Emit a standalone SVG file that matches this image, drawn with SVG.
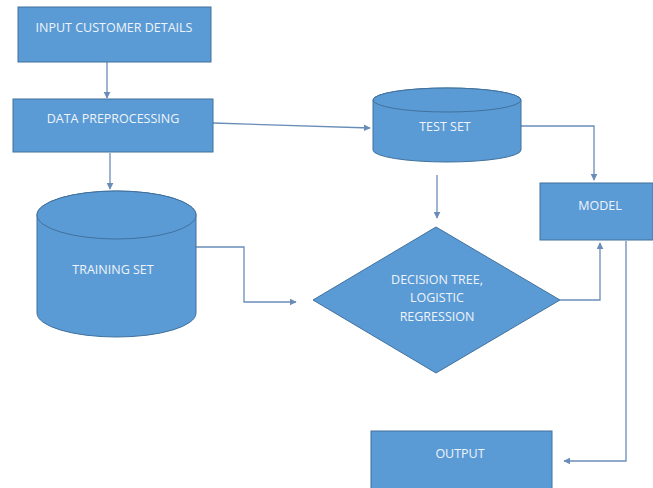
<svg xmlns="http://www.w3.org/2000/svg" width="653" height="488" viewBox="0 0 653 488">
<defs>
<style>
.n{fill:#5B9BD5;stroke:#41719C;stroke-width:1}
.t{font-family:"Open Sans","Liberation Sans",sans-serif;font-size:12.5px;fill:#EEF4FA;text-anchor:middle;dominant-baseline:middle}
.c{fill:none;stroke:#6A8DB8;stroke-width:1.3}
</style>
<marker id="a" viewBox="0 0 10 10" refX="9" refY="5" markerWidth="7" markerHeight="7" orient="auto" markerUnits="userSpaceOnUse">
<path d="M0,0 L10,5 L0,10 z" fill="#6A8DB8"/>
</marker>
</defs>
<rect width="653" height="488" fill="#fff"/>
<g id="connectors">
<path class="c" d="M107,62 V98" marker-end="url(#a)"/>
<path class="c" d="M110,153 V189" marker-end="url(#a)"/>
<path class="c" d="M213,123 L370,128" marker-end="url(#a)"/>
<path class="c" d="M521,126 H594 V180" marker-end="url(#a)"/>
<path class="c" d="M437,175 V218" marker-end="url(#a)"/>
<path class="c" d="M196,247 H244 V302 H296" marker-end="url(#a)"/>
<path class="c" d="M560,300 H600 V243" marker-end="url(#a)"/>
<path class="c" d="M626,241 V461 H564" marker-end="url(#a)"/>
</g>
<g id="input">
<rect class="n" x="18" y="7" width="193" height="55"/>
<text class="t" x="114" y="29">INPUT CUSTOMER DETAILS</text>
</g>
<g id="preprocessing">
<rect class="n" x="13" y="99" width="200" height="53"/>
<text class="t" x="113" y="120">DATA PREPROCESSING</text>
</g>
<g id="testset">
<path class="n" d="M373,100 V150 A74,12 0 0 0 521,150 V100 A74,12 0 0 0 373,100 Z"/>
<ellipse class="n" cx="447" cy="100" rx="74" ry="12"/>
<text class="t" x="445" y="128">TEST SET</text>
</g>
<g id="trainingset">
<path class="n" d="M37,215 V313 A79.5,24 0 0 0 196,313 V215 A79.5,24 0 0 0 37,215 Z"/>
<ellipse class="n" cx="116.5" cy="215" rx="79.5" ry="24"/>
<text class="t" x="113" y="271">TRAINING SET</text>
</g>
<g id="model">
<rect class="n" x="540" y="183" width="113" height="57"/>
<text class="t" x="600" y="207">MODEL</text>
</g>
<g id="classifier">
<path class="n" d="M436,227 L560,300 L436,373 L313,300 Z"/>
<text class="t" x="437" y="281">DECISION TREE,</text>
<text class="t" x="437" y="299">LOGISTIC</text>
<text class="t" x="437" y="318">REGRESSION</text>
</g>
<g id="output">
<rect class="n" x="371" y="431" width="181" height="60"/>
<text class="t" x="460" y="455">OUTPUT</text>
</g>
</svg>
